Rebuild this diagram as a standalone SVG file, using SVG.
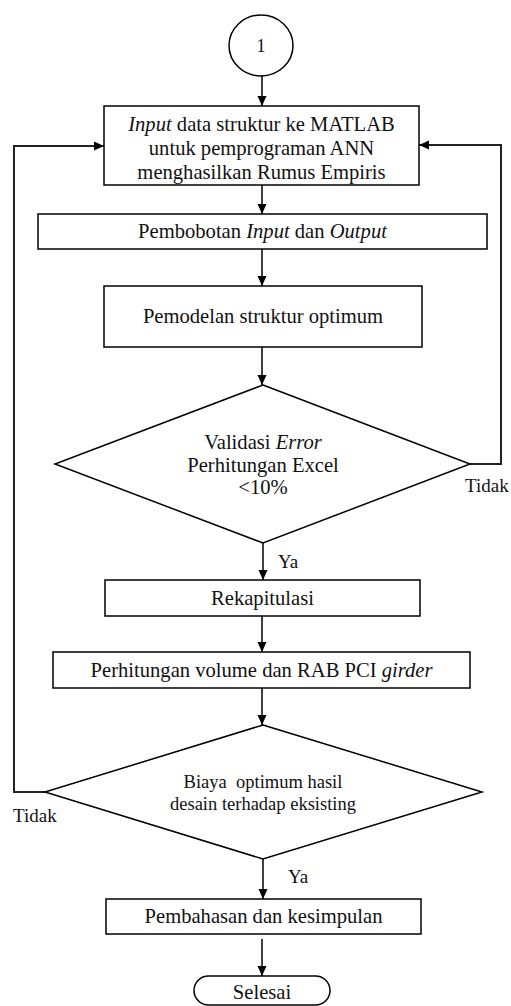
<svg xmlns="http://www.w3.org/2000/svg" width="511" height="1006" viewBox="0 0 511 1006">
<style>
.s{fill:#fff;stroke:#000;stroke-width:1.5}
.t{font-family:'Liberation Serif',Tinos,'Times New Roman','DejaVu Serif',serif;font-size:20.6px;fill:#111;text-anchor:middle}
.sm{font-size:18.5px}
.lb{font-family:'Liberation Serif',Tinos,'Times New Roman','DejaVu Serif',serif;font-size:19px;fill:#111}
.c{fill:none;stroke:#000;stroke-width:1.5}
.lp{fill:none;stroke:#222;stroke-width:2}
</style>
<defs>
<marker id="ah" markerWidth="10" markerHeight="10" refX="10" refY="5" orient="auto" markerUnits="userSpaceOnUse">
<path d="M0,0.5 L10,5 L0,9.5 Z" fill="#000"/>
</marker>
</defs>
<g id="connectors">
<line class="c" x1="262" y1="76" x2="262" y2="106" marker-end="url(#ah)"/>
<line class="c" x1="262" y1="185" x2="262" y2="214" marker-end="url(#ah)"/>
<line class="c" x1="262" y1="249" x2="262" y2="286" marker-end="url(#ah)"/>
<line class="c" x1="262" y1="347" x2="262" y2="385" marker-end="url(#ah)"/>
<line class="c" x1="263" y1="543" x2="263" y2="580" marker-end="url(#ah)"/>
<line class="c" x1="262" y1="616" x2="262" y2="652" marker-end="url(#ah)"/>
<line class="c" x1="262" y1="688" x2="262" y2="725" marker-end="url(#ah)"/>
<line class="c" x1="263" y1="859" x2="263" y2="899" marker-end="url(#ah)"/>
<line class="c" x1="262" y1="939" x2="262" y2="976" marker-end="url(#ah)"/>
<polyline class="lp" points="470,464 501,464 501,145 419,145" marker-end="url(#ah)"/>
<polyline class="lp" points="45,792 14,792 14,146 104,146" marker-end="url(#ah)"/>
<text class="lb" x="278" y="568">Ya</text>
<text class="lb" x="288" y="883">Ya</text>
<text class="lb" x="465" y="492">Tidak</text>
<text class="lb" x="13" y="822">Tidak</text>
</g>
<g id="start">
<ellipse class="s" cx="261" cy="45.5" rx="32" ry="30.5"/>
<text class="t" x="261" y="52" style="font-size:18px">1</text>
</g>
<g id="input">
<rect class="s" x="104" y="106" width="315" height="79"/>
<text class="t" x="261.5" y="131"><tspan font-style="italic">Input</tspan> data struktur ke MATLAB</text>
<text class="t" x="261.5" y="155">untuk pemprograman ANN</text>
<text class="t" x="261.5" y="179">menghasilkan Rumus Empiris</text>
</g>
<g id="pembobotan">
<rect class="s" x="38" y="214" width="449" height="35"/>
<text class="t" x="262.5" y="238">Pembobotan <tspan font-style="italic">Input</tspan> dan <tspan font-style="italic">Output</tspan></text>
</g>
<g id="pemodelan">
<rect class="s" x="104" y="286" width="318" height="61"/>
<text class="t" x="263" y="323">Pemodelan struktur optimum</text>
</g>
<g id="validasi">
<polygon class="s" points="263,385 470,464 263,543 55,464"/>
<text class="t" x="263" y="449">Validasi <tspan font-style="italic">Error</tspan></text>
<text class="t" x="263" y="472">Perhitungan Excel</text>
<text class="t" x="263" y="494">&lt;10%</text>
</g>
<g id="rekapitulasi">
<rect class="s" x="105" y="580" width="315" height="36"/>
<text class="t" x="262.5" y="605">Rekapitulasi</text>
</g>
<g id="perhitungan">
<rect class="s" x="53" y="652" width="417" height="36"/>
<text class="t" x="261.5" y="677">Perhitungan volume dan RAB PCI <tspan font-style="italic">girder</tspan></text>
</g>
<g id="biaya">
<polygon class="s" points="263,725 482,792 263,859 45,792"/>
<text class="t sm" x="263" y="788">Biaya&#160; optimum hasil</text>
<text class="t sm" x="263" y="810">desain terhadap eksisting</text>
</g>
<g id="pembahasan">
<rect class="s" x="106" y="899" width="315" height="35"/>
<text class="t" x="263.5" y="923">Pembahasan dan kesimpulan</text>
</g>
<g id="selesai">
<rect class="s" x="194" y="976" width="136" height="29" rx="14.5"/>
<text class="t" x="262" y="999">Selesai</text>
</g>
</svg>
